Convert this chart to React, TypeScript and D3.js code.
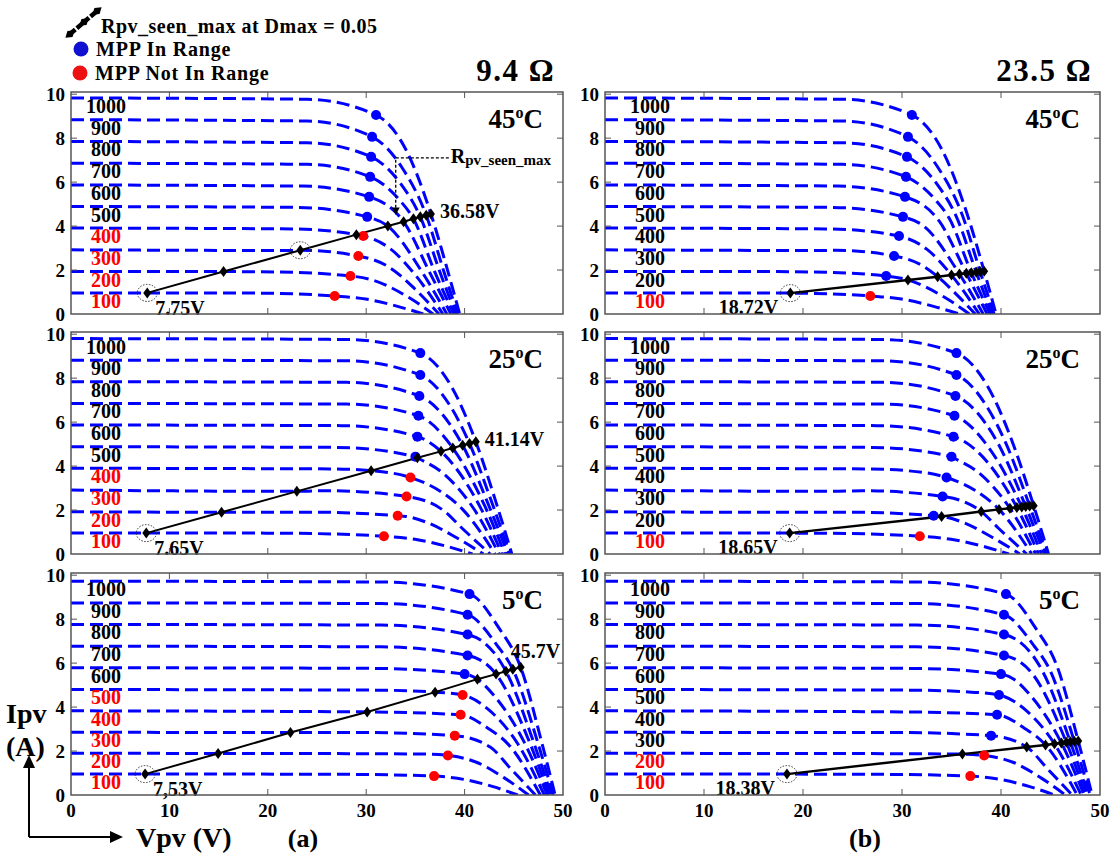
import React from 'react';
import * as d3 from 'd3';

type P = [number, number];

const irradiance = [100, 200, 300, 400, 500, 600, 700, 800, 900, 1000];
const xTicks = [0, 10, 20, 30, 40, 50];
const yTicks = [0, 2, 4, 6, 8, 10];
const tempLabels = ['45', '25', '5'];
const resistanceTitles = ['9.4 Ω', '23.5 Ω'];
const panelLetters = ['(a)', '(b)'];

// short-circuit current of each I-V curve (100..1000 W/m²)
const isc45 = [0.96, 1.93, 2.92, 3.91, 4.89, 5.87, 6.86, 7.85, 8.84, 9.83];
const isc25 = [0.95, 1.92, 2.91, 3.9, 4.88, 5.87, 6.85, 7.84, 8.82, 9.8];
const isc5 = [0.95, 1.9, 2.86, 3.83, 4.8, 5.79, 6.77, 7.76, 8.74, 9.73];
// open-circuit voltage of each curve
const voc45 = [35.8, 36.8, 37.4, 37.8, 38.2, 38.6, 38.9, 39.1, 39.3, 39.5];
const voc25 = [40.8, 41.9, 42.6, 43.1, 43.5, 43.8, 44.1, 44.4, 44.6, 44.8];
const voc5 = [45.4, 46.5, 47.2, 47.7, 48.1, 48.4, 48.6, 48.8, 49.0, 49.2];
// point where each curve leaves its flat part
const knee45: P[] = [[19, 0.95], [21, 1.91], [22, 2.89], [22.5, 3.87], [23, 4.85], [23.5, 5.82], [24, 6.81], [24, 7.79], [24, 8.78], [24, 9.77]];
const knee25: P[] = [[23, 0.94], [25, 1.9], [26, 2.88], [26.5, 3.87], [27, 4.85], [27.5, 5.84], [28, 6.82], [28, 7.81], [28, 8.79], [28, 9.76]];
const knee5: P[] = [[28, 0.94], [29, 1.88], [30, 2.84], [30.5, 3.8], [31, 4.77], [31, 5.76], [31.5, 6.74], [31.5, 7.73], [31.5, 8.71], [31.5, 9.69]];
// points on the falling side of each curve
const drop45: P[][] = [[[29.95, 0.68], [33.1, 0.36]], [[31.3, 1.44], [34.3, 0.76]], [[32.1, 2.19], [34.9, 1.16]], [[32.5, 2.95], [35.4, 1.56]], [[32.9, 3.67], [35.8, 1.94]], [[33.2, 4.42], [36.1, 2.35]], [[33.4, 5.18], [36.4, 2.75]], [[33.5, 5.93], [36.5, 3.15]], [[33.6, 6.69], [36.7, 3.55]], [[34.0, 7.51], [37.0, 3.98]]];
const drop25: P[][] = [[[34.95, 0.67], [38.1, 0.36]], [[36.2, 1.43], [39.1, 0.76]], [[36.9, 2.17], [39.8, 1.15]], [[37.4, 2.89], [40.2, 1.53]], [[37.8, 3.68], [40.7, 1.95]], [[38.1, 4.43], [40.9, 2.35]], [[38.2, 5.22], [41.2, 2.77]], [[38.4, 5.97], [41.4, 3.16]], [[38.5, 6.76], [41.5, 3.58]], [[38.7, 7.59], [41.9, 4.02]]];
const drop5: P[][] = [[[39.9, 0.71], [42.9, 0.38]], [[41.2, 1.49], [44.0, 0.79]], [[41.9, 2.24], [44.7, 1.19]], [[42.4, 3.03], [45.3, 1.61]], [[42.7, 3.78], [45.6, 2.0]], [[42.9, 4.57], [45.9, 2.42]], [[43.2, 5.27], [46.1, 2.79]], [[43.3, 6.06], [46.3, 3.21]], [[43.3, 6.81], [46.4, 3.61]], [[43.5, 7.59], [46.6, 4.02]]];

// maximum power points
const mpp45V = [26.8, 28.4, 29.2, 29.7, 30.1, 30.3, 30.4, 30.5, 30.6, 31.0];
const mpp45I = [0.82, 1.73, 2.64, 3.55, 4.42, 5.33, 6.24, 7.15, 8.06, 9.05];
const mpp25V = [31.8, 33.2, 34.1, 34.5, 35.0, 35.2, 35.3, 35.4, 35.5, 35.5];
const mpp25I = [0.81, 1.74, 2.62, 3.48, 4.43, 5.34, 6.29, 7.19, 8.14, 9.14];
const mpp5V = [36.9, 38.3, 39.0, 39.6, 39.8, 40.0, 40.3, 40.3, 40.3, 40.5];
const mpp5I = [0.86, 1.8, 2.7, 3.65, 4.55, 5.5, 6.35, 7.3, 8.2, 9.14];

// Rpv_seen_max operating points (diamonds), 9.4 Ω (L) and 23.5 Ω (R)
const dL45V = [7.75, 15.5, 23.3, 29.0, 32.2, 33.8, 34.8, 35.5, 36.1, 36.58];
const dL45I = [0.96, 1.93, 2.9, 3.61, 4.0, 4.2, 4.33, 4.42, 4.49, 4.55];
const dR45V = [18.72, 30.6, 33.6, 35.0, 35.8, 36.5, 37.0, 37.5, 37.9, 38.3];
const dR45I = [0.95, 1.55, 1.70, 1.77, 1.82, 1.85, 1.88, 1.90, 1.92, 1.94];
const dL25V = [7.65, 15.3, 22.95, 30.5, 35.2, 37.6, 38.8, 39.8, 40.5, 41.14];
const dL25I = [0.95, 1.9, 2.85, 3.79, 4.38, 4.67, 4.82, 4.95, 5.03, 5.11];
const dR25V = [18.65, 34.0, 38.0, 39.8, 40.9, 41.6, 42.1, 42.5, 42.9, 43.3];
const dR25I = [0.95, 1.71, 1.93, 2.03, 2.08, 2.12, 2.14, 2.16, 2.18, 2.2];
const dL5V = [7.53, 14.95, 22.3, 30.1, 37.0, 41.3, 43.2, 44.2, 44.9, 45.7];
const dL5I = [0.95, 1.89, 2.84, 3.78, 4.68, 5.27, 5.5, 5.63, 5.72, 5.81];
const dR5V = [18.38, 36.1, 42.6, 44.5, 45.4, 46.1, 46.6, 47.0, 47.4, 47.8];
const dR5I = [0.95, 1.86, 2.18, 2.28, 2.33, 2.37, 2.40, 2.42, 2.44, 2.46];

// number of curves (from 100 W/m² up) whose MPP is not in range
const notInRangeL = [4, 4, 5];
const notInRangeR = [1, 1, 2];
// circled diamonds
const circledL = [[0, 2], [0], [0]];
const circledR = [[0], [0], [0]];
const startLabelsL = ['7.75V', '7.65V', '7,53V'];
const endLabelsL = ['36.58V', '41.14V', '45.7V'];
const startLabelsR = ['18.72V', '18.65V', '18.38V'];

const sets = [
  { isc: isc45, voc: voc45, knee: knee45, drop: drop45, mV: mpp45V, mI: mpp45I, lV: dL45V, lI: dL45I, rV: dR45V, rI: dR45I },
  { isc: isc25, voc: voc25, knee: knee25, drop: drop25, mV: mpp25V, mI: mpp25I, lV: dL25V, lI: dL25I, rV: dR25V, rI: dR25I },
  { isc: isc5, voc: voc5, knee: knee5, drop: drop5, mV: mpp5V, mI: mpp5I, lV: dL5V, lI: dL5I, rV: dR5V, rI: dR5I },
];

const colX: P[] = [[71, 563], [605, 1100]];
const rowBottom = [314, 554, 795];
const FONT = '"Times New Roman", "Liberation Serif", serif';
const BLUE = '#0000ff';
const RED = '#ff0000';

function knots(s: typeof sets[0], k: number): P[] {
  const extra: P[] = [[s.mV[k], s.mI[k]], [s.lV[k], s.lI[k]], [s.rV[k], s.rI[k]]];
  const base: P[] = [s.knee[k], ...s.drop[k]].filter(
    (p) => !extra.some((e) => Math.abs(e[0] - p[0]) <= 1.2)
  );
  const pts = [[0, s.isc[k]] as P, ...base, ...extra, [s.voc[k], 0] as P].sort((a, b) => a[0] - b[0]);
  const out: P[] = [];
  pts.forEach((p) => {
    if (!out.length || p[0] - out[out.length - 1][0] > 0.05) out.push(p);
  });
  return out;
}

function Panel({ col, row }: { col: number; row: number }) {
  const [x0, x1] = colX[col];
  const bottom = rowBottom[row];
  const top = bottom - 222;
  const x = d3.scaleLinear().domain([0, 50]).range([x0, x1]);
  const y = d3.scaleLinear().domain([0, 10.1]).range([bottom, top]);
  const s = sets[row];
  const line = d3.line<P>().x((d) => x(d[0])).y((d) => y(d[1])).curve(d3.curveMonotoneX);
  const straight = d3.line<P>().x((d) => x(d[0])).y((d) => y(d[1]));
  const dV = col === 0 ? s.lV : s.rV;
  const dI = col === 0 ? s.lI : s.rI;
  const diamonds: P[] = dV.map((v, i) => [v, dI[i]]);
  const red = col === 0 ? notInRangeL[row] : notInRangeR[row];
  const circled = col === 0 ? circledL[row] : circledR[row];
  const clipId = `clip-${col}-${row}`;
  const labelCx = x0 + (col === 0 ? 35 : 45);
  const first = diamonds[0];
  const last = diamonds[diamonds.length - 1];
  const endX = row === 2 ? x(last[0]) - 10 : x(last[0]) + 9;
  const endY = row === 2 ? y(last[1]) - 9 : y(last[1]) + 4;
  return (
    <g>
      <defs>
        <clipPath id={clipId}>
          <rect x={x0} y={top} width={x1 - x0} height={bottom - top} />
        </clipPath>
      </defs>
      <rect x={x0} y={top} width={x1 - x0} height={bottom - top} fill="#fff" />
      <g clipPath={`url(#${clipId})`}>
        {irradiance.map((g, k) => (
          <path key={g} d={line(knots(s, k)) || ''} fill="none" stroke={BLUE} strokeWidth={3} strokeDasharray="13 6" />
        ))}
      </g>
      {irradiance.map((g, k) => (
        <text key={'l' + g} x={labelCx} y={y(s.isc[k]) + 8} textAnchor="middle" dominantBaseline="central"
          fontFamily={FONT} fontWeight="bold" fontSize={20} fill={k < red ? RED : '#000'}>{g}</text>
      ))}
      <path d={straight(diamonds) || ''} fill="none" stroke="#000" strokeWidth={col === 0 ? 2 : 2.5} />
      {irradiance.map((g, k) => (
        <circle key={'m' + g} cx={x(s.mV[k])} cy={y(s.mI[k])} r={5} fill={k < red ? RED : BLUE} />
      ))}
      {diamonds.map((d, i) => (
        <path key={'d' + i} transform={`translate(${x(d[0])},${y(d[1])})`} d="M0,-5.5L4,0L0,5.5L-4,0Z" fill="#000" />
      ))}
      {circled.map((i) => (
        <ellipse key={'c' + i} cx={x(diamonds[i][0])} cy={y(diamonds[i][1])} rx={10} ry={8.5} fill="none"
          stroke="#333" strokeWidth={1} strokeDasharray="1.5 1.5" />
      ))}
      {col === 0 ? (
        <>
          <text x={x(first[0]) + 8} y={y(first[1]) + 22} fontFamily={FONT} fontWeight="bold" fontSize={20}>{startLabelsL[row]}</text>
          <text x={endX} y={endY} fontFamily={FONT} fontWeight="bold" fontSize={20}>{endLabelsL[row]}</text>
        </>
      ) : (
        <text x={x(first[0]) - 12} y={y(first[1]) + 21} textAnchor="end" fontFamily={FONT} fontWeight="bold" fontSize={20}>{startLabelsR[row]}</text>
      )}
      <text x={x1 - 20} y={top + 36} textAnchor="end" fontFamily={FONT} fontWeight="bold" fontSize={27}>
        {tempLabels[row]}
        <tspan dy={-10} fontSize={16}>o</tspan>
        <tspan dy={10}>C</tspan>
      </text>
      <rect x={x0} y={top} width={x1 - x0} height={bottom - top} fill="none" stroke="#555" strokeWidth={1.5} />
      {xTicks.slice(1, -1).map((t) => (
        <g key={'xt' + t} stroke="#555" strokeWidth={1}>
          <line x1={x(t)} x2={x(t)} y1={bottom} y2={bottom - 6} />
          <line x1={x(t)} x2={x(t)} y1={top} y2={top + 6} />
        </g>
      ))}
      {yTicks.slice(1).map((t) => (
        <g key={'yt' + t} stroke="#555" strokeWidth={1}>
          <line x1={x0} x2={x0 + 6} y1={y(t)} y2={y(t)} />
          <line x1={x1} x2={x1 - 6} y1={y(t)} y2={y(t)} />
        </g>
      ))}
      {yTicks.map((t) => (
        <text key={'yl' + t} x={x0 - 6} y={y(t)} textAnchor="end" dominantBaseline="central"
          fontFamily={FONT} fontWeight="bold" fontSize={19}>{t}</text>
      ))}
      {row === 2 && xTicks.map((t) => (
        <text key={'xl' + t} x={x(t)} y={bottom + 15} textAnchor="middle" dominantBaseline="central"
          fontFamily={FONT} fontWeight="bold" fontSize={19}>{t}</text>
      ))}
      {row === 0 && col === 0 && (
        <g>
          <path d={`M${x(38.4)},${y(7.1)}H${x(33.0)}V${y(4.75)}`} fill="none" stroke="#000" strokeWidth={1.3} strokeDasharray="3 2" />
          <path d={`M${x(33.0) - 4},${y(4.85)}L${x(33.0) + 4},${y(4.85)}L${x(33.0)},${y(4.5)}Z`} fill="#000" />
          <text x={x(38.6)} y={y(7.1) + 5} fontFamily={FONT} fontWeight="bold" fontSize={20}>R<tspan fontSize={15} dy={2}>pv_seen_max</tspan></text>
        </g>
      )}
      {row === 0 && (
        <text x={x1 - 8} y={top - 11} textAnchor="end" fontFamily={FONT} fontWeight="bold" fontSize={31} letterSpacing={1.5}>{resistanceTitles[col]}</text>
      )}
      {row === 2 && (
        <text x={col === 0 ? 303 : 865} y={bottom + 43} textAnchor="middle" dominantBaseline="central"
          fontFamily={FONT} fontWeight="bold" fontSize={26}>{panelLetters[col]}</text>
      )}
    </g>
  );
}

export default function App() {
  const legendDiamonds: P[] = [[70, 34], [84, 22], [97, 11]];
  return (
    <svg width={1116} height={856} style={{ position: 'absolute', left: 0, top: 0, background: '#fff' }}>
      <rect width={1116} height={856} fill="#fff" />
      {[0, 1].map((c) => [0, 1, 2].map((r) => <Panel key={`${c}-${r}`} col={c} row={r} />))}
      <line x1={70} y1={34} x2={97} y2={11} stroke="#000" strokeWidth={4.5} strokeDasharray="7 2" />
      {legendDiamonds.map((d, i) => (
        <path key={i} transform={`translate(${d[0]},${d[1]}) rotate(50)`} d="M0,-6L4,0L0,6L-4,0Z" fill="#000" />
      ))}
      <text x={101} y={26} dominantBaseline="central" fontFamily={FONT} fontWeight="bold" fontSize={20} letterSpacing={0.5}>Rpv_seen_max at Dmax = 0.05</text>
      <circle cx={81} cy={49} r={7.5} fill="#1010d0" />
      <text x={96} y={49} dominantBaseline="central" fontFamily={FONT} fontWeight="bold" fontSize={20} letterSpacing={0.8}>MPP In Range</text>
      <circle cx={80} cy={73} r={7.5} fill="#ee1111" />
      <text x={95} y={73} dominantBaseline="central" fontFamily={FONT} fontWeight="bold" fontSize={20} letterSpacing={0.8}>MPP Not In Range</text>
      <text x={6} y={713} dominantBaseline="central" fontFamily={FONT} fontWeight="bold" fontSize={28}>Ipv</text>
      <text x={6} y={746} dominantBaseline="central" fontFamily={FONT} fontWeight="bold" fontSize={28}>(A)</text>
      <text x={136} y={837} dominantBaseline="central" fontFamily={FONT} fontWeight="bold" fontSize={28}>Vpv (V)</text>
      <path d="M29,837V766" stroke="#000" strokeWidth={2} fill="none" />
      <path d="M23,768L29,755L35,768Z" fill="#000" />
      <path d="M29,837H112" stroke="#000" strokeWidth={2} fill="none" />
      <path d="M110,831L123,837L110,843Z" fill="#000" />
    </svg>
  );
}
